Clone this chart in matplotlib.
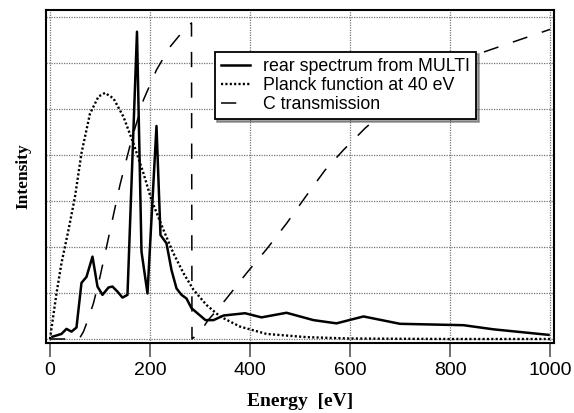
import matplotlib
matplotlib.use("Agg")
import matplotlib.pyplot as plt

# rear spectrum from MULTI (energy in eV, intensity in arbitrary units)
spec_e = [5, 23, 33, 43, 53, 63, 73, 85, 95, 105, 117, 125, 135, 145, 155,
          174, 183, 195, 213, 221, 233, 243, 253, 263, 273, 283, 297, 311,
          327, 347, 390, 423, 473, 527, 573, 627, 700, 827, 887, 997]
spec_i = [0.05, 0.11, 0.22, 0.16, 0.25, 1.22, 1.35, 1.79, 1.14, 0.96, 1.12,
          1.14, 1.03, 0.90, 0.96, 6.68, 1.90, 0.99, 4.63, 2.26, 2.08, 1.50,
          1.10, 0.96, 0.88, 0.67, 0.54, 0.41, 0.41, 0.51, 0.56, 0.47, 0.57,
          0.41, 0.34, 0.49, 0.33, 0.30, 0.21, 0.09]

# Planck function at 40 eV
planck_e = [0, 13, 23, 37, 50, 63, 80, 97, 110, 127, 147, 167, 187, 203,
            227, 247, 267, 287, 313, 340, 380, 433, 513, 600, 800, 1000]
planck_i = [0.0, 0.99, 1.65, 2.37, 3.09, 4.04, 4.90, 5.27, 5.35, 5.23, 4.83,
            4.25, 3.60, 3.02, 2.37, 1.86, 1.43, 1.07, 0.74, 0.49, 0.27, 0.11,
            0.04, 0.01, 0.0, 0.0]

# C transmission
trans_e = [0, 50, 60, 67, 77, 87, 100, 113, 127, 140, 163, 187, 213, 240,
           265, 283, 284, 300, 317, 330, 353, 393, 433, 473, 513, 550, 587,
           630, 700, 760, 860, 927, 1000]
trans_i = [0.0, 0.0, 0.03, 0.16, 0.45, 0.78, 1.35, 2.0, 2.7, 3.35, 4.33,
           5.2, 5.85, 6.35, 6.68, 6.87, 0.0, 0.15, 0.42, 0.58, 0.88, 1.43,
           1.95, 2.51, 3.12, 3.67, 4.11, 4.58, 5.25, 5.7, 6.21, 6.46, 6.73]

fig = plt.figure(figsize=(5.74, 4.13), dpi=100)
ax = fig.add_axes([0.0801, 0.1695, 0.8851, 0.8063])

ax.plot(spec_e, spec_i, color="black", lw=1.8, label="rear spectrum from MULTI")
ax.plot(planck_e, planck_i, color="black", lw=1.7, linestyle=(0, (0.9, 0.95)),
        label="Planck function at 40 eV")
ax.plot(trans_e, trans_i, color="black", lw=1.1, linestyle=(0, (10, 10)),
        label="C transmission")

ax.set_xlim(-8, 1008)
ax.set_ylim(-0.087, 7.152)
ax.set_xticks([0, 200, 400, 600, 800, 1000])
ax.set_yticks(range(0, 8))
ax.set_yticklabels([])
ax.tick_params(axis="y", length=0)
ax.tick_params(axis="x", direction="out", length=10, width=1.2, color="#555555",
               labelsize=14, pad=4)
for lab in ax.get_xticklabels():
    lab.set_family("Liberation Sans")

ax.grid(True, color="#777777", linestyle=(0, (1, 1)), lw=0.9)
for s in ax.spines.values():
    s.set_linewidth(1.5)

ax.set_xlabel("Energy  [eV]", family="Liberation Serif", fontweight="bold",
              fontsize=14, labelpad=10)
ax.set_ylabel("Intensity", family="Liberation Serif", fontweight="bold",
              fontsize=12.5, labelpad=7)

leg = ax.legend(loc="upper left", bbox_to_anchor=(0.332, 0.875),
                borderaxespad=0, fancybox=False, shadow=True,
                edgecolor="black", framealpha=1, handlelength=1.65,
                handletextpad=0.7,
                prop={"family": "Liberation Sans", "size": 12.8},
                labelspacing=0.12, borderpad=0.35)
leg.get_frame().set_linewidth(1.3)

fig.savefig("out.png", dpi=100)
